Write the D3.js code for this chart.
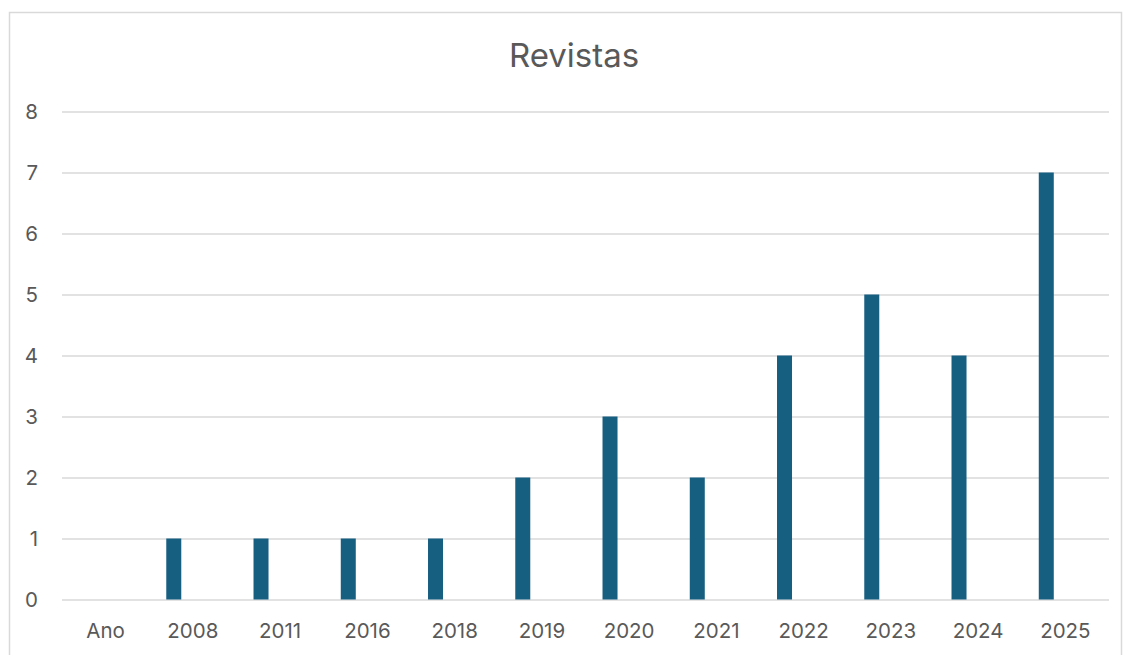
<!DOCTYPE html>
<html><head><meta charset="utf-8">
<script src="https://cdn.jsdelivr.net/npm/d3@7"></script>
<style>html,body{margin:0;padding:0;background:#fff}svg{display:block}</style>
</head><body>
<script>
const categories = ["Ano","2008","2011","2016","2018","2019","2020","2021","2022","2023","2024","2025"];
const values = [0,1,1,1,1,2,3,2,4,5,4,7];
const yTicks = [0,1,2,3,4,5,6,7,8];
const title = "Revistas";

(function(){
const W = 1125, H = 655;
const svg = d3.select("body").append("svg").attr("width", W).attr("height", H);
svg.append("rect").attr("x",9.5).attr("y",12.5).attr("width",1112).attr("height",700)
  .attr("fill","#fff").attr("stroke","#d9d9d9").attr("stroke-width",1.5);

const mLeft = 62, mRight = 1109, mTop = 111.5, mBottom = 599.5;
const x = d3.scaleBand().domain(categories).range([mLeft, mRight]).padding(0);
const y = d3.scaleLinear().domain([0, 8]).range([mBottom, mTop]);

const font = "Inter, 'Liberation Sans', sans-serif";
svg.append("text").attr("x", 574).attr("y", 67).attr("text-anchor","middle")
  .attr("font-family", font).attr("font-size", 33).attr("fill","#595959").text(title);

const yAxis = svg.append("g").attr("transform",`translate(${mLeft},0)`)
  .call(d3.axisLeft(y).tickValues(yTicks).tickSize(-(mRight-mLeft)).tickPadding(24).tickFormat(d3.format("d")));
yAxis.select(".domain").remove();
yAxis.selectAll("line").attr("stroke","#d9d9d9").attr("stroke-width",1.5);
yAxis.selectAll("text").attr("font-family",font).attr("font-size",20.5).attr("fill","#595959");

const xAxis = svg.append("g").attr("transform",`translate(0,${mBottom})`)
  .call(d3.axisBottom(x).tickSize(0).tickPadding(24));
xAxis.select(".domain").remove();
xAxis.selectAll("text").attr("font-family",font).attr("font-size",20.5).attr("fill","#595959");

const bw = x.bandwidth();
svg.append("g").selectAll("rect").data(categories).join("rect")
  .attr("x", (d) => x(d) + bw*0.195)
  .attr("width", bw*0.172)
  .attr("y", (d,i) => y(values[i]))
  .attr("height", (d,i) => y(0) - y(values[i]))
  .attr("fill","#175f81");
})();
</script>
</body></html>
